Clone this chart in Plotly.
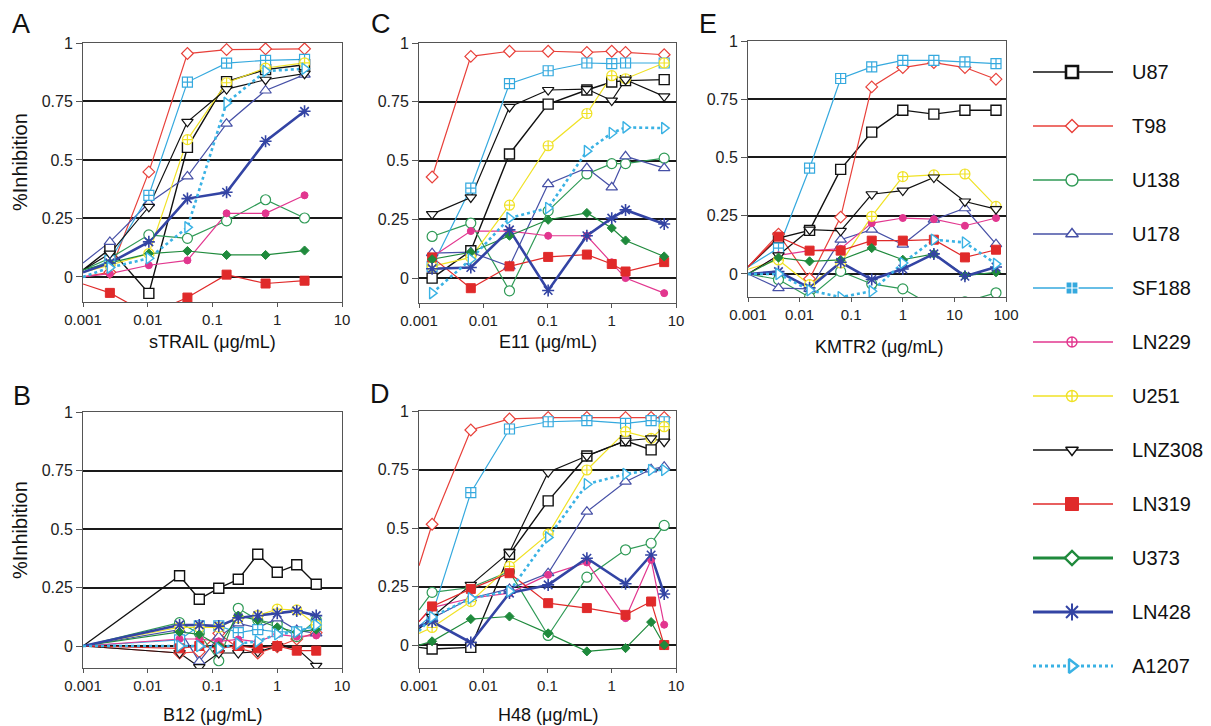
import plotly.graph_objects as go

# ---------------- data ----------------
series = ["U87", "T98", "U138", "U178", "SF188", "LN229",
          "U251", "LNZ308", "LN319", "U373", "LN428", "A1207"]

x_tickvals = [0.001, 0.01, 0.1, 1, 10]
x_ticktext = ["0.001", "0.01", "0.1", "1", "10"]
xE_tickvals = [0.001, 0.01, 0.1, 1, 10, 100]
xE_ticktext = ["0.001", "0.01", "0.1", "1", "10", "100"]
y_tickvals = [0, 0.25, 0.5, 0.75, 1]
y_ticktext = ["0", "0.25", "0.5", "0.75", "1"]

# Panel A - sTRAIL
strail_x = [0.001, 0.0026, 0.0104, 0.041, 0.165, 0.66, 2.64]
strail = {
    "U87":    [0.03, 0.12, -0.07, 0.554, 0.835, 0.886, 0.907],
    "T98":    [0.00, 0.02, 0.449, 0.955, 0.972, 0.975, 0.975],
    "U138":   [0.03, 0.08, 0.18, 0.165, 0.24, 0.33, 0.252],
    "U178":   [0.06, 0.15, 0.316, 0.43, 0.655, 0.797, 0.865],
    "SF188":  [0.02, 0.07, 0.349, 0.833, 0.914, 0.926, 0.93],
    "LN229":  [0.00, 0.014, 0.05, 0.071, 0.272, 0.272, 0.349],
    "U251":   [0.02, 0.05, 0.10, 0.587, 0.83, 0.893, 0.915],
    "LNZ308": [0.03, 0.10, 0.30, 0.663, 0.803, 0.843, 0.869],
    "LN319":  [-0.03, -0.068, -0.16, -0.088, 0.01, -0.028, -0.016],
    "U373":   [0.03, 0.06, 0.10, 0.111, 0.094, 0.094, 0.113],
    "LN428":  [0.02, 0.06, 0.15, 0.335, 0.362, 0.58, 0.708],
    "A1207":  [0.00, 0.04, 0.08, 0.212, 0.744, 0.88, 0.89],
}

# Panel C - E11
e11_x = [0.0016, 0.0064, 0.0256, 0.1024, 0.41, 1.0, 1.64, 6.55]
e11 = {
    "U87":    [0.0, 0.116, 0.528, 0.74, 0.80, 0.834, 0.84, 0.844],
    "T98":    [0.43, 0.943, 0.965, 0.965, 0.96, 0.965, 0.96, 0.95],
    "U138":   [0.177, 0.234, -0.054, 0.286, 0.443, 0.487, 0.487, 0.51],
    "U178":   [0.106, 0.11, 0.05, 0.40, 0.468, 0.386, 0.518, 0.468],
    "SF188":  [0.05, 0.383, 0.827, 0.882, 0.915, 0.912, 0.915, 0.915],
    "LN229":  [0.09, 0.20, 0.20, 0.18, 0.18, 0.067, 0.0, -0.064],
    "U251":   [0.05, 0.088, 0.31, 0.563, 0.70, 0.861, 0.848, 0.915],
    "LNZ308": [0.272, 0.343, 0.728, 0.80, 0.804, 0.755, 0.844, 0.773],
    "LN319":  [0.088, -0.043, 0.05, 0.09, 0.10, 0.06, 0.028, 0.068],
    "U373":   [0.08, 0.11, 0.18, 0.248, 0.277, 0.213, 0.16, 0.092],
    "LN428":  [0.04, 0.045, 0.205, -0.053, 0.18, 0.255, 0.29, 0.23],
    "A1207":  [-0.064, 0.08, 0.255, 0.298, 0.54, 0.617, 0.641, 0.638],
}

# Panel E - KMTR2
kmtr2_x = [0.001, 0.0039, 0.0156, 0.0625, 0.25, 1.0, 4.0, 16.0, 64.0]
kmtr2 = {
    "U87":    [0.03, 0.154, 0.187, 0.449, 0.609, 0.703, 0.686, 0.703, 0.703],
    "T98":    [0.03, 0.171, -0.021, 0.244, 0.803, 0.886, 0.907, 0.886, 0.836],
    "U138":   [0.0, -0.024, -0.10, 0.011, -0.043, -0.064, -0.14, -0.12, -0.081],
    "U178":   [0.0, -0.061, -0.064, 0.147, 0.19, 0.126, 0.233, 0.282, 0.128],
    "SF188":  [0.03, 0.111, 0.454, 0.839, 0.889, 0.917, 0.917, 0.91, 0.903],
    "LN229":  [0.0, 0.08, 0.10, 0.108, 0.218, 0.24, 0.235, 0.207, 0.24],
    "U251":   [0.02, 0.06, -0.046, 0.047, 0.247, 0.418, 0.425, 0.429, 0.29],
    "LNZ308": [0.0, 0.08, 0.19, 0.185, 0.342, 0.358, 0.414, 0.311, 0.278],
    "LN319":  [0.03, 0.16, 0.10, 0.10, 0.143, 0.143, 0.147, 0.071, 0.104],
    "U373":   [0.0, 0.07, 0.054, 0.06, 0.111, 0.061, 0.086, -0.007, 0.007],
    "LN428":  [0.0, 0.01, -0.06, 0.05, -0.024, 0.021, 0.086, -0.01, 0.03],
    "A1207":  [0.0, 0.0, -0.07, -0.10, -0.074, 0.047, 0.147, 0.135, 0.043],
}

# Panel B - B12
b12_x = [0.001, 0.031, 0.0625, 0.125, 0.25, 0.5, 1.0, 2.0, 4.0]
b12 = {
    "U87":    [0, 0.30, 0.20, 0.247, 0.285, 0.392, 0.315, 0.347, 0.264],
    "T98":    [0, -0.03, -0.025, 0.054, -0.01, -0.03, -0.003, 0.03, 0.057],
    "U138":   [0, 0.10, 0.054, -0.063, 0.161, 0.111, 0.094, 0.04, 0.111],
    "U178":   [0, 0.07, -0.067, 0.04, 0.097, 0.078, 0.118, 0.068, 0.054],
    "SF188":  [0, 0.026, 0.086, 0.086, 0.057, 0.07, 0.061, 0.06, 0.09],
    "LN229":  [0, 0.03, 0.03, 0.02, 0.028, 0.018, 0.05, 0.04, 0.045],
    "U251":   [0, 0.08, 0.08, 0.08, 0.12, 0.13, 0.158, 0.154, 0.09],
    "LNZ308": [0, -0.03, -0.09, -0.03, -0.03, -0.025, 0.0, -0.01, -0.085],
    "LN319":  [0, -0.01, 0.0, -0.01, 0.0, -0.01, 0.0, -0.02, -0.02],
    "U373":   [0, 0.06, 0.05, 0.0, 0.13, 0.11, 0.08, 0.06, 0.07],
    "LN428":  [0, 0.09, 0.09, 0.085, 0.12, 0.13, 0.14, 0.15, 0.13],
    "A1207":  [0, 0.0, 0.0, -0.01, 0.01, 0.02, 0.05, 0.06, 0.09],
}

# Panel D - H48
h48_x = [0.001, 0.0016, 0.0064, 0.0256, 0.1024, 0.41, 1.64, 4.1, 6.55]
h48 = {
    "U87":    [-0.01, -0.017, -0.01, 0.388, 0.616, 0.808, 0.873, 0.834, 0.90],
    "T98":    [0.339, 0.516, 0.919, 0.966, 0.972, 0.972, 0.972, 0.972, 0.972],
    "U138":   [0.15, 0.225, 0.246, 0.314, 0.041, 0.29, 0.407, 0.435, 0.511],
    "U178":   [0.07, 0.115, 0.20, 0.24, 0.307, 0.57, 0.698, 0.751, 0.762],
    "SF188":  [0.08, 0.13, 0.651, 0.923, 0.954, 0.959, 0.947, 0.959, 0.954],
    "LN229":  [0.10, 0.16, 0.20, 0.222, 0.30, 0.353, 0.115, 0.364, 0.087],
    "U251":   [0.05, 0.075, 0.186, 0.336, 0.474, 0.748, 0.912, 0.883, 0.933],
    "LNZ308": [0.07, 0.12, 0.257, 0.397, 0.738, 0.808, 0.873, 0.883, 0.869],
    "LN319":  [0.10, 0.165, 0.24, 0.307, 0.179, 0.158, 0.129, 0.186, 0.0],
    "U373":   [0.0, 0.016, 0.111, 0.122, 0.05, -0.027, -0.013, 0.098, 0.0],
    "LN428":  [0.08, 0.10, 0.011, 0.222, 0.257, 0.371, 0.262, 0.385, 0.218],
    "A1207":  [0.06, 0.12, 0.20, 0.23, 0.46, 0.687, 0.731, 0.748, 0.748],
}

# ---------------- styles ----------------
FONT = "Liberation Sans, Arial, Helvetica, sans-serif"
styles = {
    "U87":    dict(color="#111111", symbol="square", fill="white", size=10, lw=1.4, mlw=1.4, dash="solid"),
    "T98":    dict(color="#e8403a", symbol="diamond", fill="white", size=9, lw=1.2, mlw=1.2, dash="solid"),
    "U138":   dict(color="#2f9a56", symbol="circle", fill="white", size=10, lw=1.2, mlw=1.2, dash="solid"),
    "U178":   dict(color="#4650a6", symbol="triangle-up", fill="white", size=10, lw=1.2, mlw=1.2, dash="solid"),
    "SF188":  dict(color="#35a9de", symbol="square-cross", fill="white", size=10, lw=1.2, mlw=1.2, dash="solid"),
    "LN229":  dict(color="#e2378f", symbol="circle-cross", fill="#e2378f", size=7, lw=1.2, mlw=1.0, dash="solid"),
    "U251":   dict(color="#f0e226", symbol="circle-cross", fill="white", size=10, lw=1.2, mlw=1.2, dash="solid"),
    "LNZ308": dict(color="#111111", symbol="triangle-down", fill="white", size=10, lw=1.2, mlw=1.2, dash="solid"),
    "LN319":  dict(color="#e02a2a", symbol="square", fill="#e02a2a", size=9, lw=1.2, mlw=1.0, dash="solid"),
    "U373":   dict(color="#1f8a3c", symbol="diamond", fill="#1f8a3c", size=7, lw=1.2, mlw=1.0, dash="solid"),
    "LN428":  dict(color="#3344a4", symbol="asterisk-open", fill="#3344a4", size=10, lw=2.6, mlw=1.6, dash="solid"),
    "A1207":  dict(color="#3ab2e4", symbol="triangle-right", fill="white", size=10, lw=2.6, mlw=1.4, dash="dot"),
}

# page is 1211x726; the html body has an 8px margin, so the figure is 8px smaller
PAGE_W, PAGE_H, OFF = 1211, 726, 8
W, H = PAGE_W - OFF, PAGE_H - OFF
def px(x):
    return (x - OFF) / W
def py(y):
    return (PAGE_H - y) / H

panels = [
    ("A", strail_x, strail, "", (83, 342), (43, 302), [-0.107, 1.0], [-3, 1], x_tickvals, x_ticktext),
    ("C", e11_x, e11, "2", (419, 676), (43, 303), [-0.106, 1.0], [-3, 1], x_tickvals, x_ticktext),
    ("E", kmtr2_x, kmtr2, "3", (748, 1006), (41, 297), [-0.099, 1.0], [-3, 2], xE_tickvals, xE_ticktext),
    ("B", b12_x, b12, "4", (83, 342), (412, 668), [-0.094, 1.0], [-3, 1], x_tickvals, x_ticktext),
    ("D", h48_x, h48, "5", (419, 676), (411, 668), [-0.098, 1.0], [-3, 1], x_tickvals, x_ticktext),
]

fig = go.Figure()
layout = dict(width=W, height=H,
              margin=dict(l=0, r=0, t=0, b=0, pad=0, autoexpand=False),
              paper_bgcolor="white", plot_bgcolor="white", showlegend=False,
              template="none",
              font=dict(family=FONT, color="#222222"))

for name, xs, vals, sfx, xd, yd, yr, xr, tv, tt in panels:
    xa = "x" + sfx
    ya = "y" + sfx
    for s in series:
        st = styles[s]
        fig.add_trace(go.Scatter(
            x=xs, y=vals[s], mode="lines", xaxis=xa, yaxis=ya,
            line=dict(color=st["color"], width=st["lw"], dash=st["dash"]),
            hoverinfo="skip"))
    for s in series:
        st = styles[s]
        mx = [x for x in xs if x > 0.00101]
        my = [v for x, v in zip(xs, vals[s]) if x > 0.00101]
        fig.add_trace(go.Scatter(
            x=mx, y=my, mode="markers", xaxis=xa, yaxis=ya, name=s,
            marker=dict(symbol=st["symbol"], size=st["size"], color=st["fill"],
                        line=dict(color=st["color"], width=st["mlw"]))))
    layout["xaxis" + sfx] = dict(
        domain=[px(xd[0]), px(xd[1])], type="log", range=xr, anchor=ya,
        tickvals=tv, ticktext=tt, ticks="outside", ticklen=4, tickcolor="#555555",
        showline=True, linecolor="#555555", linewidth=1, mirror=True,
        showgrid=False, zeroline=False, automargin=False,
        tickfont=dict(family=FONT, size=15, color="#222222"))
    layout["yaxis" + sfx] = dict(
        domain=[py(yd[1]), py(yd[0])], range=yr, anchor=xa,
        tickvals=y_tickvals, ticktext=y_ticktext, ticks="outside", ticklen=6,
        tickcolor="#555555", showline=True, linecolor="#555555", linewidth=1,
        mirror=True, showgrid=True, gridcolor="#1a1a1a", gridwidth=1.5,
        zeroline=False, automargin=False,
        tickfont=dict(family=FONT, size=16, color="#222222"))

# ---------------- custom legend ----------------
legend_sizes = {"U87": 12, "T98": 10, "U138": 12, "U178": 11, "SF188": 12, "LN229": 10,
                "U251": 11, "LNZ308": 11, "LN319": 13, "U373": 11, "LN428": 14, "A1207": 12}
legend_fill = {"U87": "white", "T98": "white", "U138": "white", "U178": "white",
               "SF188": "#35a9de", "LN229": "white", "U251": "white", "LNZ308": "white",
               "LN319": "#e02a2a", "U373": "white", "LN428": "#3344a4", "A1207": "white"}
legend_sym = {"U87": "square", "T98": "diamond", "U138": "circle", "U178": "triangle-up",
              "SF188": "square-cross", "LN229": "circle-cross", "U251": "circle-cross",
              "LNZ308": "triangle-down", "LN319": "square", "U373": "diamond",
              "LN428": "asterisk-open", "A1207": "triangle-right"}
legend_lw = {"U87": 1.6, "U373": 3.0, "LN428": 3.0, "A1207": 3.0}
legend_mlw = {"U87": 2.6, "SF188": 1.2, "LN319": 1.0, "U373": 2.4, "LN428": 2.0, "A1207": 2.4}
legend_mline = {"SF188": "white", "LN319": "#e02a2a"}

for i, s in enumerate(series):
    st = styles[s]
    fig.add_trace(go.Scatter(
        x=[0, 1], y=[i, i], mode="lines", xaxis="x6", yaxis="y6",
        line=dict(color=st["color"], width=legend_lw.get(s, 1.6),
                  dash=st["dash"] if s == "A1207" else "solid"),
        hoverinfo="skip", cliponaxis=False))
    fig.add_trace(go.Scatter(
        x=[0.4875], y=[i], mode="markers", xaxis="x6", yaxis="y6", cliponaxis=False,
        marker=dict(symbol=legend_sym[s], size=legend_sizes[s], color=legend_fill[s],
                    line=dict(color=legend_mline.get(s, st["color"]), width=legend_mlw.get(s, 1.4))),
        hoverinfo="skip"))
layout["xaxis6"] = dict(domain=[px(1033), px(1113)], range=[0, 1], visible=False,
                        anchor="y6", automargin=False)
layout["yaxis6"] = dict(domain=[py(693), py(45)], range=[11.5, -0.5], visible=False,
                        anchor="x6", automargin=False)

# ---------------- annotations ----------------
ann = []
def text(x, y, t, size, xanchor="center", angle=0):
    ann.append(dict(x=px(x), y=py(y), xref="paper", yref="paper", text=t, showarrow=False,
                    xanchor=xanchor, yanchor="middle", textangle=angle,
                    font=dict(family=FONT, size=size, color="#111111")))

for letter, (x, y) in {"A": (21, 24), "C": (381, 24), "E": (708, 24), "B": (22, 396), "D": (380, 394)}.items():
    text(x, y, letter, 27)

x_titles = ["sTRAIL (μg/mL)", "E11 (μg/mL)", "KMTR2 (μg/mL)", "B12 (μg/mL)", "H48 (μg/mL)"]
x_title_pos = [(212, 342), (548, 342), (879, 347), (212, 715), (548, 715)]
for t, (x, y) in zip(x_titles, x_title_pos):
    text(x, y, t, 18)

text(20, 162, "%Inhibition", 20, angle=-90)
text(20, 530, "%Inhibition", 20, angle=-90)

for i, s in enumerate(series):
    text(1130, 72 + 54 * i, s, 20, xanchor="left")

layout["annotations"] = ann
fig.update_layout(**layout)
fig.write_html("out.html")
